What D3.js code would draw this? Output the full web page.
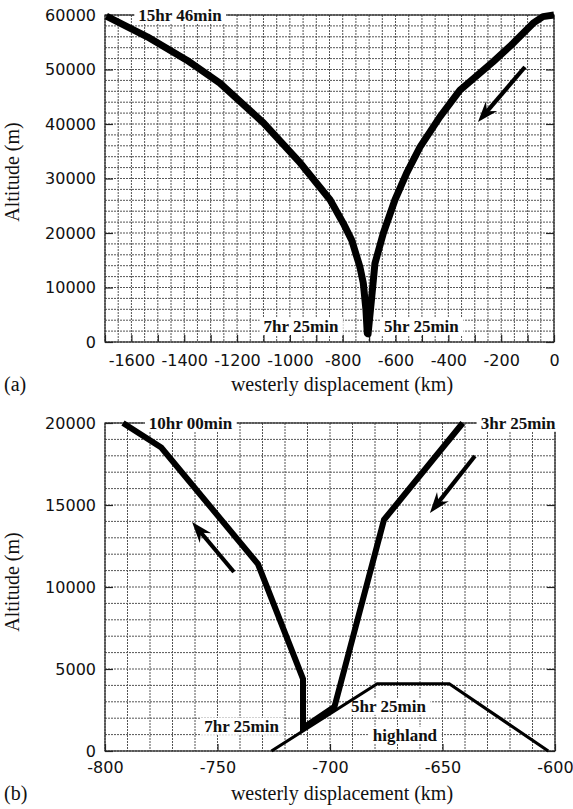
<!DOCTYPE html>
<html>
<head>
<meta charset="utf-8">
<script src="https://cdn.jsdelivr.net/npm/d3@7/dist/d3.min.js"></script>
<style>
  body { margin: 0; background: #fff; }
  svg { display: block; }
</style>
</head>
<body>
<svg id="fig" width="573" height="809"></svg>
<script>
// ---- Panel (a): full flight, westerly displacement (km) vs altitude (m) ----
const trajAX = [0, -42, -79, -155, -231, -356, -432, -507, -558, -602, -646, -678, -690, -704,
                -707, -712, -722, -735, -766, -798, -848, -960, -1100, -1265, -1390, -1540, -1695];
const trajAY = [60000, 59700, 58500, 54800, 51400, 46200, 41300, 35800, 31000, 26100, 20000, 14400, 8300, 1500,
                1600, 5900, 10800, 13800, 18700, 21800, 26100, 32800, 40200, 47500, 51700, 56000, 59800];
const xTicksA = [-1600, -1400, -1200, -1000, -800, -600, -400, -200, 0];
const yTicksA = [0, 10000, 20000, 30000, 40000, 50000, 60000];
const timeLabelsA = ["15hr 46min", "7hr 25min", "5hr 25min"];
const timeAnchorsAX = [-1416, -958, -502];
const timeAnchorsAY = [60000, 2900, 2900];
const arrowsA = [[-110, 50460, -288, 40370]];

// ---- Panel (b): lowest 20 km of the flight, over the highland ----
const trajBX = [-641, -676, -698, -712, -712, -732, -775, -792];
const trajBY = [20000, 14100, 2700, 1400, 4400, 11400, 18500, 20000];
const highlandX = [-726, -679, -647, -603];
const highlandY = [0, 4100, 4100, 0];
const xTicksB = [-800, -750, -700, -650, -600];
const yTicksB = [0, 5000, 10000, 15000, 20000];
const timeLabelsB = ["10hr 00min", "3hr 25min", "7hr 25min", "5hr 25min", "highland"];
const timeAnchorsBX = [-762, -616.4, -739.3, -674, -666.7];
const timeAnchorsBY = [20000, 20000, 1520, 2740, 980];
const arrowsB = [[-742.7, 10915, -761.3, 13960], [-635.6, 17990, -655.6, 14510]];

const svg = d3.select("#fig");
const SANS = "'DejaVu Sans', Verdana, sans-serif";
const SERIF = "'Liberation Serif', 'Times New Roman', serif";

function panel(opt) {
  const x = d3.scaleLinear().domain(opt.xDomain).range([opt.left, opt.right]);
  const y = d3.scaleLinear().domain(opt.yDomain).range([opt.bottom, opt.top]);
  const g = svg.append("g");

  // graph-paper grid
  const grid = g.append("g").attr("stroke", "#555").attr("stroke-width", 1)
    .attr("stroke-dasharray", "2,1");
  grid.selectAll("line.v").data(d3.range(opt.xDomain[0], opt.xDomain[1] + 1e-6, opt.xGrid))
    .join("line").attr("class", "v")
    .attr("x1", d => x(d)).attr("x2", d => x(d)).attr("y1", opt.top).attr("y2", opt.bottom);
  grid.selectAll("line.h").data(d3.range(opt.yDomain[0], opt.yDomain[1] + 1e-6, opt.yGrid))
    .join("line").attr("class", "h")
    .attr("y1", d => y(d)).attr("y2", d => y(d)).attr("x1", opt.left).attr("x2", opt.right);

  // frame
  g.append("rect").attr("x", opt.left).attr("y", opt.top)
    .attr("width", opt.right - opt.left).attr("height", opt.bottom - opt.top)
    .attr("fill", "none").attr("stroke", "#222").attr("stroke-width", 1.2);

  // axes with inward ticks
  const ax = g.append("g").attr("transform", `translate(0,${opt.bottom})`)
    .call(d3.axisBottom(x).tickValues(opt.xTicks).tickSize(0).tickPadding(opt.xPad)
      .tickFormat(d => String(d).replace("\u2212", "-")));
  const ayL = g.append("g").attr("transform", `translate(${opt.left},0)`)
    .call(d3.axisLeft(y).tickValues(opt.yTicks).tickSize(-8).tickPadding(17).tickFormat(d => String(d)));
  const ayR = g.append("g").attr("transform", `translate(${opt.right},0)`)
    .call(d3.axisRight(y).tickValues(opt.yTicks).tickSize(-8).tickFormat(""));
  const axMinor = g.append("g").attr("transform", `translate(0,${opt.bottom})`)
    .call(d3.axisTop(x).tickValues(d3.range(opt.xDomain[0], opt.xDomain[1] + 1e-6, opt.xMinor))
      .tickSize(7).tickFormat(""));
  [ax, ayL, ayR, axMinor].forEach(a => {
    a.select(".domain").remove();
    a.selectAll(".tick line").attr("stroke", "#222").attr("stroke-width", 1.2);
    a.selectAll("text").attr("fill", "#111").style("font-family", SANS).style("font-size", "16px");
  });
  ayL.selectAll("text").attr("x", -9);

  // time / place labels on white boxes
  opt.labels.forEach((t, i) => {
    const lg = g.append("g");
    const txt = lg.append("text")
      .attr("x", x(opt.labelX[i])).attr("y", y(opt.labelY[i]))
      .attr("text-anchor", "middle").attr("dy", "0.34em")
      .style("font-family", SERIF).style("font-weight", "bold").style("font-size", "17px")
      .attr("fill", "#111").text(t);
    const b = txt.node().getBBox();
    lg.insert("rect", "text").attr("x", b.x - 4).attr("y", b.y + 1)
      .attr("width", b.width + 8).attr("height", b.height - 2).attr("fill", "#fff");
  });

  // terrain profile
  if (opt.terrainX) {
    g.append("path")
      .datum(d3.zip(opt.terrainX, opt.terrainY))
      .attr("d", d3.line().x(d => x(d[0])).y(d => y(d[1])))
      .attr("fill", "none").attr("stroke", "#000").attr("stroke-width", 3.2);
  }

  // trajectory
  g.append("path")
    .datum(d3.zip(opt.trajX, opt.trajY))
    .attr("d", d3.line().x(d => x(d[0])).y(d => y(d[1])))
    .attr("fill", "none").attr("stroke", "#000")
    .attr("stroke-width", opt.trajWidth).attr("stroke-linejoin", opt.join).attr("stroke-linecap", "butt");

  // direction arrows
  opt.arrows.forEach(a => {
    const x1 = x(a[0]), y1 = y(a[1]), x2 = x(a[2]), y2 = y(a[3]);
    const ang = Math.atan2(y2 - y1, x2 - x1) * 180 / Math.PI;
    const len = Math.hypot(x2 - x1, y2 - y1);
    const ag = g.append("g").attr("transform", `translate(${x1},${y1}) rotate(${ang})`);
    ag.append("line").attr("x1", 0).attr("y1", 0).attr("x2", len - 12).attr("y2", 0)
      .attr("stroke", "#000").attr("stroke-width", 4.2);
    ag.append("path")
      .attr("d", `M${len},0 L${len - 21},-7.5 L${len - 14},0 L${len - 21},7.5 Z`)
      .attr("fill", "#000");
  });

  // axis titles and panel tag
  svg.append("text")
    .attr("transform", `translate(${opt.yTitleX},${opt.yTitleY}) rotate(-90)`)
    .attr("text-anchor", "middle").style("font-family", SERIF).style("font-size", "20px")
    .attr("fill", "#111").text("Altitude (m)");
  svg.append("text").attr("x", opt.xTitleX).attr("y", opt.xTitleY)
    .attr("text-anchor", "middle").style("font-family", SERIF).style("font-size", "20px")
    .attr("fill", "#111").text("westerly displacement (km)");
  svg.append("text").attr("x", 4).attr("y", opt.xTitleY)
    .style("font-family", SERIF).style("font-size", "20px").attr("fill", "#111").text(opt.tag);
}

panel({
  xDomain: [-1700, 0], yDomain: [0, 60000],
  left: 105, right: 554, top: 15, bottom: 342,
  xGrid: 50, yGrid: 2000, xMinor: 100,
  xTicks: xTicksA, yTicks: yTicksA, xPad: 13,
  trajX: trajAX, trajY: trajAY, trajWidth: 7, join: "round",
  labels: timeLabelsA, labelX: timeAnchorsAX, labelY: timeAnchorsAY,
  arrows: arrowsA,
  yTitleX: 19, yTitleY: 172, xTitleX: 342, xTitleY: 391, tag: "(a)"
});

panel({
  xDomain: [-800, -600], yDomain: [0, 20000],
  left: 105, right: 555, top: 423, bottom: 751,
  xGrid: 10, yGrid: 1000, xMinor: 50,
  xTicks: xTicksB, yTicks: yTicksB, xPad: 11,
  trajX: trajBX, trajY: trajBY, trajWidth: 6, join: "miter",
  terrainX: highlandX, terrainY: highlandY,
  labels: timeLabelsB, labelX: timeAnchorsBX, labelY: timeAnchorsBY,
  arrows: arrowsB,
  yTitleX: 19, yTitleY: 582, xTitleX: 342, xTitleY: 800, tag: "(b)"
});
</script>
</body>
</html>
